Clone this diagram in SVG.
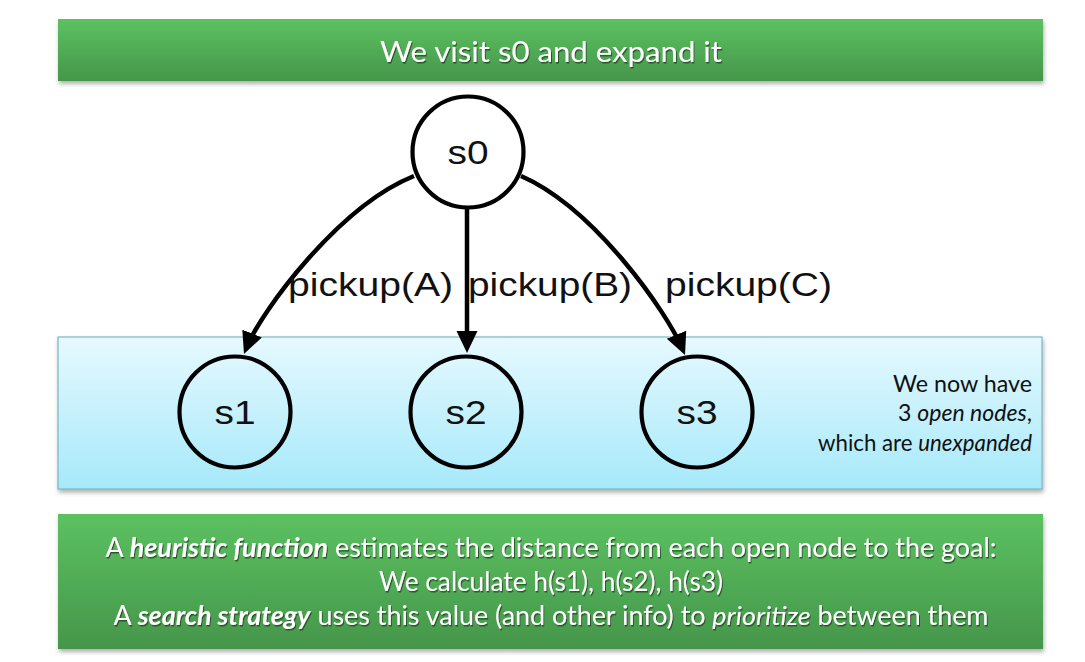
<svg xmlns="http://www.w3.org/2000/svg" width="1085" height="662" viewBox="0 0 1085 662">
  <defs>
    <linearGradient id="gGreen" x1="0" y1="0" x2="0" y2="1">
      <stop offset="0" stop-color="#5cc161"/>
      <stop offset="1" stop-color="#45964a"/>
    </linearGradient>
    <linearGradient id="gBlue" x1="0" y1="0" x2="0" y2="1">
      <stop offset="0" stop-color="#e6f9ff"/>
      <stop offset="1" stop-color="#a6e9fa"/>
    </linearGradient>
    <filter id="boxShadow" x="-5%" y="-10%" width="110%" height="130%">
      <feDropShadow dx="1" dy="3" stdDeviation="2" flood-color="#555" flood-opacity="0.45"/>
    </filter>
    <filter id="textShadow" x="-5%" y="-20%" width="110%" height="150%">
      <feDropShadow dx="1" dy="1.5" stdDeviation="0.6" flood-color="#1d4a1f" flood-opacity="0.85"/>
    </filter>
    <marker id="arrow" markerUnits="userSpaceOnUse" markerWidth="24" markerHeight="24" refX="16" refY="10.5" orient="auto">
      <path d="M0,0 L22,10.5 L0,21 z" fill="#000"/>
    </marker>
    <style>
      .banner { fill: url(#gGreen); filter: url(#boxShadow); }
      .panel { fill: url(#gBlue); stroke: #7ab7c6; stroke-width: 1.2; filter: url(#boxShadow); }
      .btxt { font-family: Lato, "Open Sans", sans-serif; fill: #fff; text-anchor: middle; filter: url(#textShadow); }
      .note { font-family: Lato, "Open Sans", sans-serif; font-size: 23px; fill: #111; text-anchor: end; }
      .node circle { fill: none; stroke: #000; stroke-width: 4.2; }
      .node text { font-family: "Liberation Sans", Arial, sans-serif; font-size: 34px; fill: #111; text-anchor: middle; }
      .edge { fill: none; stroke: #000; stroke-width: 4.5; marker-end: url(#arrow); }
      .elabel { font-family: "Liberation Sans", Arial, sans-serif; font-size: 34px; fill: #111; }
      .bi { font-weight: bold; font-style: italic; }
      .it { font-style: italic; }
    </style>
  </defs>

  <rect width="1085" height="662" fill="#fff"/>

  <g id="title">
    <rect class="banner" x="58" y="19" width="985" height="62"/>
    <text class="btxt" x="551" y="62" font-size="29" textLength="342" lengthAdjust="spacingAndGlyphs">We visit s0 and expand it</text>
  </g>

  <g id="openPanel">
    <rect class="panel" x="58" y="337" width="984" height="152"/>
    <text class="note" x="1032" y="392" textLength="139" lengthAdjust="spacingAndGlyphs">We now have</text>
    <text class="note" x="1032" y="421" textLength="134" lengthAdjust="spacingAndGlyphs">3 <tspan class="it">open nodes</tspan>,</text>
    <text class="note" x="1032" y="451" textLength="214" lengthAdjust="spacingAndGlyphs">which are <tspan class="it">unexpanded</tspan></text>
  </g>

  <g id="connectors">
    <path id="e-s0-s1" class="edge" d="M414,176 C339,206 261,311 246.2,348.4"/>
    <path id="e-s0-s2" class="edge" d="M467,208 L467,347"/>
    <path id="e-s0-s3" class="edge" d="M521,176 C594.6,208 667.3,312.7 682.7,349.5"/>
    <text class="elabel" x="288" y="296" textLength="165" lengthAdjust="spacingAndGlyphs">pickup(A)</text>
    <text class="elabel" x="468" y="296" textLength="164" lengthAdjust="spacingAndGlyphs">pickup(B)</text>
    <text class="elabel" x="665" y="296" textLength="167" lengthAdjust="spacingAndGlyphs">pickup(C)</text>
  </g>

  <g id="s0" class="node">
    <circle cx="468" cy="152" r="55.5"/>
    <text x="468" y="164" textLength="41" lengthAdjust="spacingAndGlyphs">s0</text>
  </g>
  <g id="s1" class="node">
    <circle cx="235" cy="412" r="55.5"/>
    <text x="235" y="424" textLength="41" lengthAdjust="spacingAndGlyphs">s1</text>
  </g>
  <g id="s2" class="node">
    <circle cx="466" cy="412" r="55.5"/>
    <text x="466" y="424" textLength="41" lengthAdjust="spacingAndGlyphs">s2</text>
  </g>
  <g id="s3" class="node">
    <circle cx="697" cy="412" r="55.5"/>
    <text x="697" y="424" textLength="41" lengthAdjust="spacingAndGlyphs">s3</text>
  </g>

  <g id="summary">
    <rect class="banner" x="58" y="514" width="985" height="135"/>
    <text class="btxt" x="551" y="557" font-size="26" textLength="891" lengthAdjust="spacingAndGlyphs">A <tspan class="bi">heuristic function</tspan> estimates the distance from each open node to the goal:</text>
    <text class="btxt" x="551" y="591" font-size="26" textLength="344" lengthAdjust="spacingAndGlyphs">We calculate h(s1), h(s2), h(s3)</text>
    <text class="btxt" x="551" y="625" font-size="26" textLength="875" lengthAdjust="spacingAndGlyphs">A <tspan class="bi">search strategy</tspan> uses this value (and other info) to <tspan class="it">prioritize</tspan> between them</text>
  </g>
</svg>
